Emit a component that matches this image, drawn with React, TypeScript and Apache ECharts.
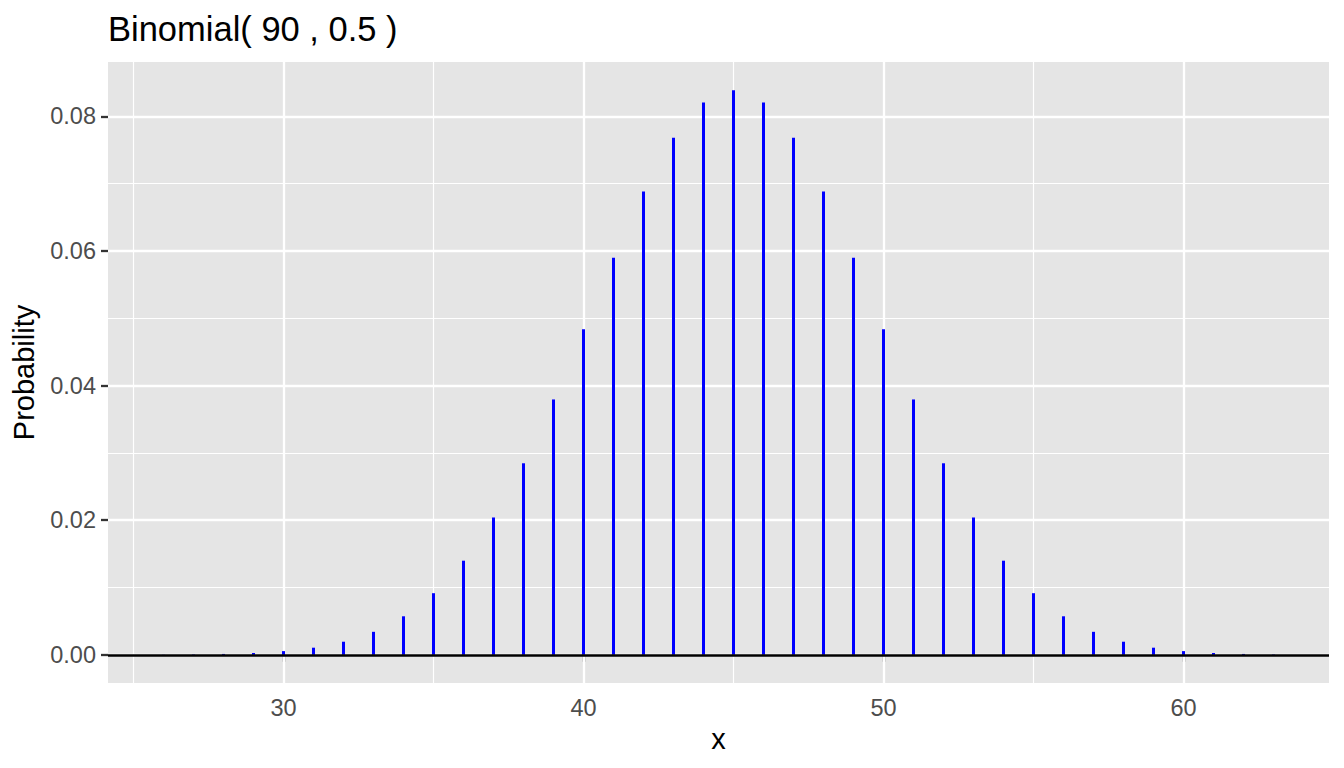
import React, { useEffect, useRef } from "react";
import * as echarts from "echarts";

const xValues = [26, 27, 28, 29, 30, 31, 32, 33, 34, 35, 36, 37, 38, 39, 40, 41, 42, 43, 44, 45, 46, 47, 48, 49, 50, 51, 52, 53, 54, 55, 56, 57, 58, 59, 60, 61, 62, 63];
const probValues = [
  0.0000235, 0.0000556, 0.000125, 0.000267, 0.000544, 0.001052, 0.00194, 0.00341, 0.005717, 0.009148,
  0.013976, 0.020397, 0.028449, 0.037932, 0.048363, 0.058979, 0.068809, 0.07681, 0.082047, 0.08387,
  0.082047, 0.07681, 0.068809, 0.058979, 0.048363, 0.037932, 0.028449, 0.020397, 0.013976, 0.009148,
  0.005717, 0.00341, 0.00194, 0.001052, 0.000544, 0.000267, 0.000125, 0.0000556,
];
const xMajorTicks = [30, 40, 50, 60];
const xMinorTicks = [25, 35, 45, 55];
const yMajorTicks = [0, 0.02, 0.04, 0.06, 0.08];
const yMinorTicks = [0.01, 0.03, 0.05, 0.07];

const FONT = "Liberation Sans";

export default function App() {
  const ref = useRef<HTMLDivElement>(null);
  useEffect(() => {
    if (!ref.current) return;
    const chart = echarts.init(ref.current, null, { renderer: "svg" });
    const xMin = 26 - 0.05 * 37;
    const xMax = 63 + 0.05 * 37;
    const yMax0 = 0.08387;
    const yMin = -0.05 * yMax0;
    const yMax = yMax0 * 1.05;
    const gridLine = (axis: "xAxis" | "yAxis", v: number, w: number) => ({
      [axis]: v,
      lineStyle: { color: "#FFFFFF", width: w, type: "solid" },
    });
    chart.setOption({
      animation: false,
      backgroundColor: "#FFFFFF",
      title: {
        text: "Binomial( 90 , 0.5 )",
        left: 103,
        top: 6,
        textStyle: { fontFamily: FONT, fontSize: 34.5, fontWeight: "normal", color: "#000000" },
      },
      grid: {
        left: 108,
        right: 15,
        top: 62,
        bottom: 85,
        show: true,
        backgroundColor: "#E5E5E5",
        borderWidth: 0,
        containLabel: false,
        outerBoundsMode: "none",
      },
      xAxis: {
        type: "value",
        min: xMin,
        max: xMax,
        name: "x",
        nameLocation: "middle",
        nameGap: 37,
        nameTextStyle: { fontFamily: FONT, fontSize: 29, color: "#000000" },
        axisLine: { show: false },
        axisTick: { show: true, customValues: xMajorTicks, length: 7, lineStyle: { color: "#333333", width: 2.3 } },
        axisLabel: {
          customValues: xMajorTicks,
          fontFamily: FONT,
          fontSize: 23.5,
          color: "#4D4D4D",
          margin: 13,
          formatter: (v: number) => String(Math.round(v)),
        },
        splitLine: { show: false },
      },
      yAxis: {
        type: "value",
        min: yMin,
        max: yMax,
        name: "Probability",
        nameLocation: "middle",
        nameGap: 70,
        nameRotate: 90,
        nameTextStyle: { fontFamily: FONT, fontSize: 29, color: "#000000" },
        axisLine: { show: false },
        axisTick: { show: true, customValues: yMajorTicks, length: 7, lineStyle: { color: "#333333", width: 2.3 } },
        axisLabel: {
          customValues: yMajorTicks,
          fontFamily: FONT,
          fontSize: 23.5,
          color: "#4D4D4D",
          margin: 12,
          formatter: (v: number) => v.toFixed(2),
        },
        splitLine: { show: false },
      },
      series: [
        {
          type: "line",
          data: [],
          z: 1,
          silent: true,
          markLine: {
            z: 1,
            silent: true,
            symbol: ["none", "none"],
            label: { show: false },
            animation: false,
            data: [
              ...xMinorTicks.map((v) => gridLine("xAxis", v, 1.2)),
              ...yMinorTicks.map((v) => gridLine("yAxis", v, 1.2)),
              ...xMajorTicks.map((v) => gridLine("xAxis", v, 2.3)),
              ...yMajorTicks.map((v) => gridLine("yAxis", v, 2.3)),
            ],
          },
        },
        {
          type: "bar",
          z: 3,
          barWidth: 3,
          itemStyle: { color: "#0000FF" },
          data: xValues.map((x, i) => [x, probValues[i]]),
        },
        {
          type: "line",
          data: [],
          z: 4,
          silent: true,
          markLine: {
            z: 6,
            silent: true,
            symbol: ["none", "none"],
            label: { show: false },
            animation: false,
            data: [{ yAxis: 0, lineStyle: { color: "#000000", width: 2.5, type: "solid" } }],
          },
        },
      ],
    });
    return () => chart.dispose();
  }, []);
  return <div ref={ref} style={{ position: "fixed", left: 0, top: 0, width: 1344, height: 768 }} />;
}
